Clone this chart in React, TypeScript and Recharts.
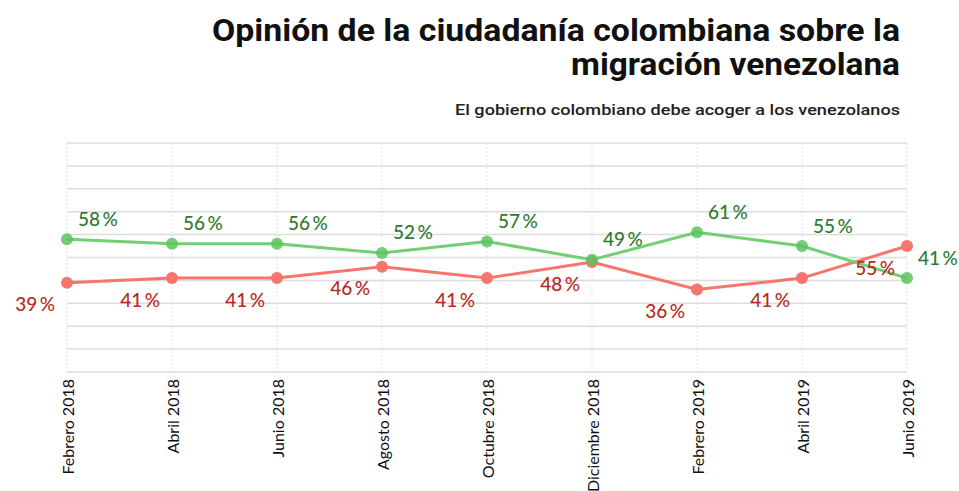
import { LineChart, Line, XAxis, YAxis, CartesianGrid } from "recharts";

// survey months
const months = [
  "Febrero 2018",
  "Abril 2018",
  "Junio 2018",
  "Agosto 2018",
  "Octubre 2018",
  "Diciembre 2018",
  "Febrero 2019",
  "Abril 2019",
  "Junio 2019",
];

// % que está de acuerdo / en desacuerdo
const acuerdo = [58, 56, 56, 52, 57, 49, 61, 55, 41];
const desacuerdo = [39, 41, 41, 46, 41, 48, 36, 41, 55];

const yTicks = [10, 20, 30, 40, 50, 60, 70, 80, 90, 100];

const data = months.map((m, i) => ({
  month: m,
  acuerdo: acuerdo[i],
  desacuerdo: desacuerdo[i],
}));

const GREEN_LINE = "#72cf72";
const GREEN_TEXT = "#2e7a30";
const RED_LINE = "#f6766e";
const RED_TEXT = "#b52b24";
const LABEL_FONT = "Lato, 'Open Sans', sans-serif";

const MonthTick = (props: any) => {
  const { x, payload } = props;
  return (
    <text
      x={x}
      y={379}
      transform={`rotate(-90, ${x}, 379)`}
      textAnchor="end"
      dominantBaseline="central"
      fontFamily={LABEL_FONT}
      fontSize={16}
      fontWeight={400}
      fill="#111"
    >
      {payload.value}
    </text>
  );
};

const greenLabel = (props: any) => {
  const { x, y, value } = props;
  return (
    <text
      x={x + 11}
      y={y - 21}
      textAnchor="start"
      dominantBaseline="central"
      fontFamily={LABEL_FONT}
      fontSize={19}
      fontWeight={500}
      fill={GREEN_TEXT}
    >
      {value + "\u2009%"}
    </text>
  );
};

const redLabel = (props: any) => {
  const { x, y, value } = props;
  return (
    <text
      x={x - 12}
      y={y + 21}
      textAnchor="end"
      dominantBaseline="central"
      fontFamily={LABEL_FONT}
      fontSize={19}
      fontWeight={500}
      fill={RED_TEXT}
    >
      {value + "\u2009%"}
    </text>
  );
};

export default function App() {
  return (
    <div
      style={{
        position: "absolute",
        left: 0,
        top: 0,
        width: 959,
        height: 491,
        background: "#fff",
        overflow: "hidden",
      }}
    >
      <svg
        width={959}
        height={130}
        style={{ position: "absolute", left: 0, top: 0 }}
      >
        <text
          x={900}
          y={41}
          textAnchor="end"
          fontFamily="Roboto, sans-serif"
          fontWeight={700}
          fontSize={32}
          textLength={688}
          lengthAdjust="spacingAndGlyphs"
          fill="#111"
        >
          Opinión de la ciudadanía colombiana sobre la
        </text>
        <text
          x={900}
          y={75}
          textAnchor="end"
          fontFamily="Roboto, sans-serif"
          fontWeight={700}
          fontSize={32}
          textLength={329}
          lengthAdjust="spacingAndGlyphs"
          fill="#111"
        >
          migración venezolana
        </text>
        <text
          x={900}
          y={115}
          textAnchor="end"
          fontFamily="Roboto, sans-serif"
          fontWeight={500}
          fontSize={15}
          textLength={445}
          lengthAdjust="spacingAndGlyphs"
          fill="#222"
        >
          El gobierno colombiano debe acoger a los venezolanos
        </text>
      </svg>

      <div style={{ position: "absolute", left: 0, top: 0 }}>
        <LineChart
          width={959}
          height={491}
          data={data}
          margin={{ top: 143, right: 52, bottom: 0, left: 67 }}
        >
          <CartesianGrid vertical={false} stroke="#dcdcdc" strokeWidth={1.5} />
          <CartesianGrid horizontal={false} stroke="#e3e3e3" strokeDasharray="2 2" />
          <XAxis
            dataKey="month"
            interval={0}
            height={119}
            axisLine={false}
            tickLine={false}
            tick={<MonthTick />}
          />
          <YAxis hide domain={[0, 100]} ticks={yTicks} interval={0} />
          <Line
            dataKey="desacuerdo"
            stroke={RED_LINE}
            strokeWidth={3}
            dot={{ r: 6, fill: RED_LINE, stroke: "none", fillOpacity: 1 }}
            label={redLabel}
            isAnimationActive={false}
          />
          <Line
            dataKey="acuerdo"
            stroke={GREEN_LINE}
            strokeWidth={3}
            dot={{ r: 6, fill: "#5cc45c", stroke: "none", fillOpacity: 0.85 }}
            label={greenLabel}
            isAnimationActive={false}
          />
        </LineChart>
      </div>
    </div>
  );
}
